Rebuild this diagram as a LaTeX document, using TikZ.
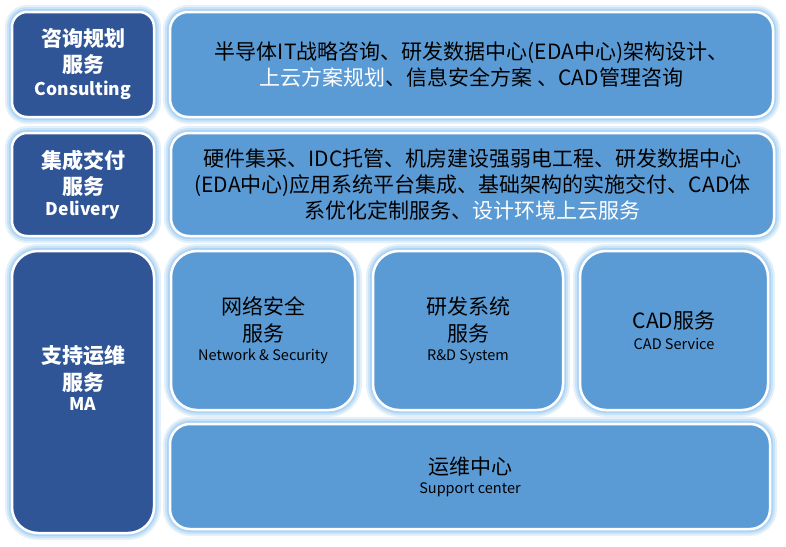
\documentclass[tikz,border=0pt]{standalone}
\usepackage{fontspec}
\setmainfont{Noto Sans CJK SC}
\definecolor{navyblue}{RGB}{47,85,151}
\definecolor{tileblue}{RGB}{91,155,213}
\definecolor{glowblue}{RGB}{150,200,240}
\usepackage{tikz}
\usetikzlibrary{positioning}
\tikzset{
glow/.style={preaction={draw=glowblue, line width=14pt, draw opacity=0.25}, preaction={draw=glowblue, line width=10pt, draw opacity=0.35}, preaction={draw=glowblue, line width=6pt, draw opacity=0.55}}, % soft halo round every tile
tile/.style={glow, draw=white, line width=2.5pt, outer sep=0pt, inner sep=0pt, align=center}, % what all the boxes share
lead/.style={tile, fill=navyblue, text=white, rounded corners=15pt, minimum width=142pt, font=\bfseries\fontsize{21}{26}\selectfont}, % dark boxes on the left
body/.style={tile, fill=tileblue, text=black, rounded corners=18pt, font=\fontsize{21}{26}\selectfont}, % light boxes
cell/.style={body, rounded corners=26pt, minimum height=159pt, font=\fontsize{21}{27}\selectfont}, % the three boxes of the bottom row
}
\newcommand{\entitle}[1]{{\fontsize{17.5}{20}\selectfont #1}}
\newcommand{\ensub}[1]{{\fontsize{14.5}{16}\selectfont #1}}

\begin{document}
\begin{tikzpicture}[x=1pt, y=-1pt]
      \path[use as bounding box, fill=white] (0,0) rectangle (786,546);

      \node[lead, minimum height=105pt, anchor=north west] (cons) at (12,12) {咨询规划\\服务\\[-3pt]\entitle{Consulting}};
      \node[lead, minimum height=103pt, below=16pt of cons] (deli) {集成交付\\服务\\[-5pt]\entitle{Delivery}};
      \node[lead, minimum height=282pt, rounded corners=26pt, below=15pt of deli] (ma) {};
      \node[text=white, font=\bfseries\fontsize{21}{27}\selectfont, align=center, inner sep=0pt] (matitle) at ([yshift=14pt]ma.center) {支持运维\\服务\\[-7pt]\entitle{MA}};

      \node[body, minimum width=603pt, minimum height=105pt, right=16pt of cons] (plan) {半导体IT战略咨询、研发数据中心(EDA中心)架构设计、\\\textcolor{white}{上云方案规划}、信息安全方案 、CAD管理咨询};
      \node[body, minimum width=603pt, minimum height=103pt, right=17pt of deli] (impl) {硬件集采、IDC托管、机房建设强弱电工程、研发数据中心\\(EDA中心)应用系统平台集成、基础架构的实施交付、CAD体\\系优化定制服务、\textcolor{white}{设计环境上云服务}};

      \node[cell, minimum width=184pt, anchor=north west] (net) at (171,251) {网络安全\\服务\\[-8pt]\ensub{Network \& Security}};
      \node[cell, minimum width=190pt, right=18pt of net] (rnd) {研发系统\\服务\\[-8pt]\ensub{R\&D System}};
      \node[cell, minimum width=188pt, right=17pt of rnd] (cad) {CAD服务\\[-6pt]\ensub{CAD Service}};
      \node[body, rounded corners=20pt, minimum width=600pt, minimum height=105pt, anchor=north west] (ops) at (170,424) {运维中心\\[-7pt]\ensub{Support center}};
    \end{tikzpicture}
\end{document}
